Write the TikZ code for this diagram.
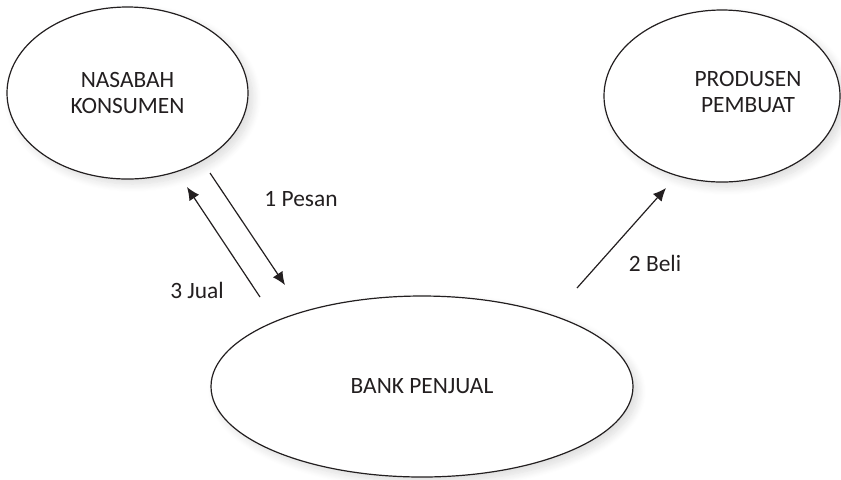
\documentclass[tikz,border=0pt]{standalone}
\usepackage{fontspec}
\setmainfont{Carlito}
\usepackage{tikz}
\usetikzlibrary{arrows.meta, shapes.geometric, shadows.blur}

\definecolor{ink}{HTML}{231F20}

\begin{document}
\begin{tikzpicture}[x=0.5pt, y=-0.5pt, line width=0.6pt,
  bubble/.style={ellipse, draw=ink, fill=white, inner sep=0pt,
    blur shadow={shadow xshift=2.5pt, shadow yshift=-2.5pt, shadow opacity=14, shadow blur steps=10, shadow blur radius=4pt}},
  word/.style={text=ink, font=\fontsize{11.7}{13.25}\selectfont, align=center, inner sep=0pt},
  flow/.style={draw=ink, -{Latex[length=6.5pt, width=5.8pt]}}]

  % Page size (in pixels)
  \def\W{841} % width
  \def\H{479} % height
  \useasboundingbox (0,0) rectangle (\W,\H);

  % Three parties
  \node[bubble, word, minimum width=120.5pt, minimum height=86pt] (nasabah) at (127.5,93)
    {NASABAH\\KONSUMEN};
  \node[bubble, minimum width=118pt, minimum height=86pt] (produsen) at (722,96) {};
  \node[word] (produsentext) at (748,92) {PRODUSEN\\PEMBUAT};
  \node[bubble, word, minimum width=211pt, minimum height=90.5pt] (bank) at (422,386.5)
    {BANK PENJUAL};

  % Ends of the arrows
  \coordinate (pesanA) at (210,173);
  \coordinate (pesanB) at (285,285);
  \coordinate (jualA) at (260,297);
  \coordinate (jualB) at (187,187);
  \coordinate (beliA) at (577,288);
  \coordinate (beliB) at (666,188);

  % Arrows
  \draw[flow] (pesanA) -- (pesanB);
  \draw[flow] (jualA) -- (jualB);
  \draw[flow] (beliA) -- (beliB);

  % Labels
  \node[word] (pesan) at (301,199) {1 Pesan};
  \node[word] (jual) at (197,290) {3 Jual};
  \node[word] (beli) at (655,263) {2 Beli};

\end{tikzpicture}
\end{document}
